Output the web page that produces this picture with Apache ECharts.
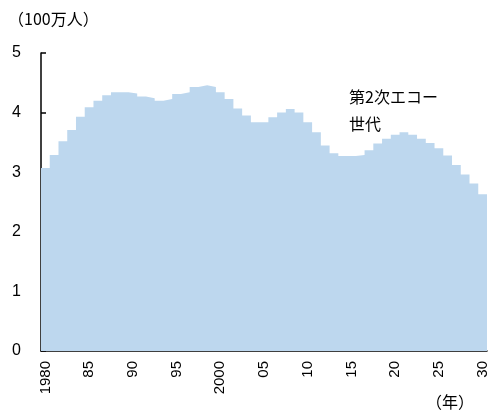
<!DOCTYPE html>
<html><head><meta charset="utf-8">
<script src="https://cdn.jsdelivr.net/npm/echarts@6/dist/echarts.min.js"></script>
<style>html,body{margin:0;padding:0;background:#fff}#c{width:493px;height:414px}</style>
</head><body><div id="c"></div>
<script>
const years = [];
for (let y = 1980; y <= 2030; y++) years.push(y);
const population = [
  3.07, 3.29, 3.52, 3.71, 3.93, 4.09, 4.20, 4.29, 4.34, 4.34,
  4.32, 4.27, 4.24, 4.20, 4.23, 4.31, 4.34, 4.43, 4.46, 4.43,
  4.34, 4.23, 4.07, 3.95, 3.84, 3.84, 3.92, 4.00, 4.06, 4.00,
  3.84, 3.67, 3.45, 3.32, 3.27, 3.27, 3.29, 3.37, 3.48, 3.56,
  3.63, 3.67, 3.63, 3.56, 3.49, 3.40, 3.28, 3.12, 2.96, 2.81, 2.63
];
const yTicks = [0, 1, 2, 3, 4, 5];
const unitLabel = '（100万人）';
const xUnitLabel = '（年）';
const annotation = '第2次エコー\n世代';

// step area: each year occupies [year-0.5, year+0.5]
const stepData = years.map((y, i) => [y - 0.5, population[i]]);
stepData.push([years[years.length - 1] + 0.5, population[population.length - 1]]);

const font = '"Liberation Sans","Noto Sans CJK JP",sans-serif';
const cjk = '"Noto Sans CJK JP",sans-serif';
const chart = echarts.init(document.getElementById('c'));
chart.setOption({
  animation: false,
  grid: { left: 41, right: 6, top: 53, bottom: 63 },
  xAxis: [{
    type: 'category',
    data: years.map(String),
    axisLine: { lineStyle: { color: '#000', width: 1.5 } },
    axisTick: { show: false },
    axisLabel: {
      interval: 4, rotate: 90, margin: 10,
      color: '#000', fontSize: 15, fontFamily: font,
      formatter: v => (v === '1980' || v === '2000') ? v : v.slice(2)
    }
  }, {
    type: 'value', show: false,
    min: years[0] - 0.5, max: years[years.length - 1] + 0.5
  }],
  yAxis: {
    type: 'value', min: yTicks[0], max: yTicks[yTicks.length - 1], interval: 1,
    splitLine: { show: false },
    axisLine: { show: true, lineStyle: { color: '#000', width: 1.5 } },
    axisTick: { show: true, inside: true, length: 5, lineStyle: { color: '#000', width: 1.5 } },
    axisLabel: { color: '#000', fontSize: 16, fontFamily: font, margin: 20 }
  },
  series: [{
    type: 'line',
    xAxisIndex: 1,
    step: 'end',
    data: stepData,
    symbol: 'none',
    lineStyle: { width: 0 },
    areaStyle: { color: '#bdd7ee', opacity: 1 },
    z: 1
  }],
  graphic: [
    { type: 'text', left: 8, top: 11, style: { text: unitLabel, fill: '#000', font: '16px ' + cjk } },
    { type: 'text', left: 426, top: 394, style: { text: xUnitLabel, fill: '#000', font: '16px ' + cjk } },
    { type: 'text', left: 349, top: 83, style: { text: annotation, fill: '#000', lineHeight: 27, font: '16px ' + cjk } }
  ]
});
</script></body></html>
